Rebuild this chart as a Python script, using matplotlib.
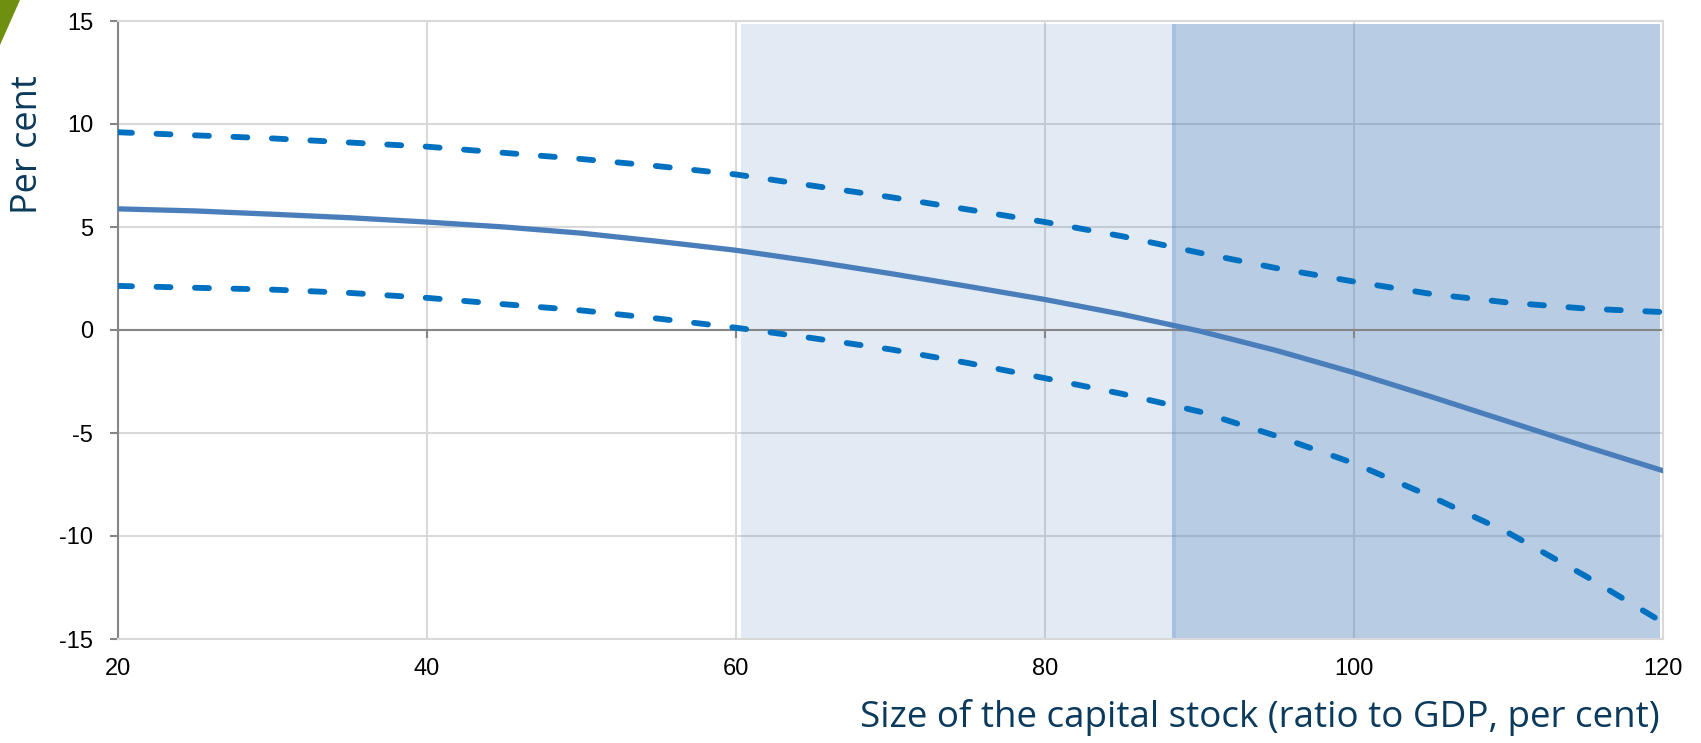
import matplotlib
matplotlib.use('Agg')
import matplotlib.pyplot as plt
from matplotlib.patches import Polygon
from matplotlib.markers import TICKDOWN

plt.rcParams['axes.unicode_minus'] = False

# Capital stock ratio (x) and estimated effect with its band
capital_ratio = [20, 25, 30, 35, 40, 45, 50, 55, 60, 65, 70,
                 75, 80, 85, 90, 95, 100, 105, 110, 115, 120]
central = [5.88, 5.78, 5.62, 5.45, 5.24, 5.00, 4.70, 4.30, 3.87, 3.33, 2.74,
           2.12, 1.48, 0.76, -0.05, -1.00, -2.07, -3.24, -4.45, -5.66, -6.83]
upper = [9.60, 9.45, 9.30, 9.10, 8.90, 8.60, 8.30, 7.95, 7.55, 7.00, 6.45,
         5.85, 5.24, 4.55, 3.75, 3.00, 2.35, 1.75, 1.33, 1.04, 0.87]
lower = [2.14, 2.05, 1.96, 1.80, 1.56, 1.25, 0.95, 0.55, 0.11, -0.40, -0.94,
         -1.60, -2.34, -3.10, -3.96, -5.15, -6.47, -8.09, -9.85, -11.95, -14.20]

# shaded zones on the capital ratio
light_zone = (60.3, 88.5)
dark_zone = (88.2, 119.8)

xticks = [20, 40, 60, 80, 100, 120]
yticks = [-15, -10, -5, 0, 5, 10, 15]

W, H = 1701, 743
fig = plt.figure(figsize=(W / 100, H / 100), dpi=100)
ax = fig.add_axes([118 / W, 1 - 639 / H, (1663 - 118) / W, (639 - 21) / H])

ax.set_xlim(20, 120)
ax.set_ylim(-15, 15)
ax.set_xticks(xticks)
ax.set_yticks(yticks)
ax.grid(True, color='#D9D9D9', linewidth=1.5, zorder=0)
ax.set_axisbelow(True)

ax.axvspan(*light_zone, ymax=0.995, color='#4F81BD', alpha=0.16, lw=0, zorder=1)
ax.axvspan(*dark_zone, ymax=0.995, color='#4F81BD', alpha=0.40, lw=0, zorder=1)

# horizontal axis at zero with downward ticks
ax.axhline(0, color='#868686', linewidth=1.5, zorder=2)
ax.plot(xticks, [0] * len(xticks), ls='none', marker=TICKDOWN, markersize=6,
        markeredgewidth=1.5, color='#868686', clip_on=False, zorder=2)

ax.plot(capital_ratio, central, color='#4A7EBB', linewidth=3.8, zorder=4)
for band in (upper, lower):
    ax.plot(capital_ratio, band, color='#0070C0', linewidth=4.2,
            dashes=(2.4, 4.2), dash_capstyle='round', zorder=4)

for side in ('top', 'right', 'bottom'):
    ax.spines[side].set_color('#D9D9D9')
    ax.spines[side].set_linewidth(1.5)
ax.spines['left'].set_color('#868686')
ax.spines['left'].set_linewidth(1.5)

ax.tick_params(axis='y', direction='out', length=6, width=1.5, color='#868686',
               pad=12, labelsize=17, labelcolor='black')
ax.tick_params(axis='x', length=0, pad=14, labelsize=17, labelcolor='black')
for lab in ax.get_xticklabels() + ax.get_yticklabels():
    lab.set_fontfamily('Liberation Sans')

fig.text(28 / W, 1 - 145 / H, 'Per cent', rotation=90, ha='center', va='center',
         fontsize=26, color='#0B3A5C', family='Open Sans')
fig.text(1660 / W, 1 - 727 / H, 'Size of the capital stock (ratio to GDP, per cent)',
         ha='right', va='baseline', fontsize=26.5, color='#0B3A5C', family='Open Sans')

# corner accent
fig.patches.append(Polygon([(0, 1), (20 / W, 1), (0, 1 - 45 / H)], closed=True,
                           transform=fig.transFigure, facecolor='#6F8F0F',
                           edgecolor='none'))

fig.savefig('out.png', dpi=100)
